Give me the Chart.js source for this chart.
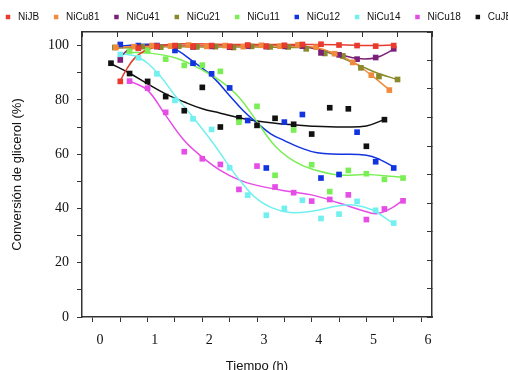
<!DOCTYPE html>
<html>
<head>
<meta charset="utf-8">
<script src="https://cdn.jsdelivr.net/npm/chart.js@4/dist/chart.umd.min.js"></script>
<style>
  html, body { margin: 0; padding: 0; background: #fff; overflow: hidden; }
  #wrap { position: absolute; left: -9px; top: 0; width: 540px; height: 374px; }
</style>
</head>
<body>
<div id="wrap"><canvas id="chart" width="540" height="374"></canvas></div>
<script>
/* series names and colours */
var names = ["NiJB", "NiCu81", "NiCu41", "NiCu21", "NiCu11", "NiCu12", "NiCu14", "NiCu18", "CuJB"];
var colors = ["#e83b2e", "#f08b3e", "#7a2079", "#8a8a2c", "#7aee55", "#1233e0", "#72f0f0", "#e64ce6", "#111111"];

/* sampling times (h) */
var tB = [0.5, 0.83, 1.17, 1.5, 1.83, 2.17, 2.5, 2.83, 3.17, 3.5, 3.83, 4.17, 4.5, 4.83, 5.17, 5.5];
var tC = [0.67, 1, 1.33, 1.67, 2, 2.33, 2.67, 3, 3.33, 3.67, 4, 4.33, 4.67, 5, 5.33, 5.67];
var tCuJB = [0.33, 0.67, 1, 1.33, 1.67, 2, 2.33, 2.67, 3, 3.33, 3.67, 4, 4.33, 4.67, 5, 5.33];
var tNiCu81 = [0.42, 0.75, 1.08, 1.42, 1.75, 2.08, 2.42, 2.75, 3.08, 3.42, 3.75, 4.08, 4.42, 4.75, 5.09, 5.42];
var tNiCu21 = [0.4, 0.9, 1.24, 1.57, 1.9, 2.24, 2.57, 2.9, 3.24, 3.57, 3.9, 4.24, 4.57, 4.9, 5.23, 5.57];

/* measured conversion (%) */
var vNiJB   = [86.8, 99.0, 99.8, 100.0, 99.6, 100.0, 99.7, 100.2, 99.8, 100.1, 100.4, 100.5, 100.2, 100.0, 99.8, 100.0];
var vNiCu81 = [99.3, 99.6, 100.0, 99.8, 100.2, 99.7, 100.0, 99.6, 100.1, 99.8, 100.3, 99.4, 97.0, 93.8, 89.1, 83.6];
var vNiCu41 = [94.7, 99.4, 99.6, 99.8, 99.5, 99.7, 99.4, 99.8, 99.6, 99.7, 99.8, 97.3, 96.6, 95.0, 95.6, 98.8];
var vNiCu21 = [99.3, 99.6, 99.4, 99.8, 99.5, 99.6, 99.3, 99.7, 99.5, 99.5, 98.8, 97.1, 96.2, 91.8, 88.6, 87.5];
var vNiCu11 = [98.0, 98.2, 95.0, 92.7, 92.8, 90.5, 71.8, 77.6, 52.2, 68.9, 56.1, 46.2, 54.0, 52.8, 50.7, 51.2];
var vNiCu12 = [100.4, 100.0, 100.0, 98.2, 93.5, 89.6, 84.4, 72.4, 54.9, 71.8, 74.6, 51.2, 52.5, 68.1, 57.2, 54.9];
var vNiCu14 = [96.7, 95.5, 89.6, 79.8, 73.0, 69.1, 55.0, 44.9, 37.5, 40.0, 43.0, 36.3, 37.9, 42.6, 39.3, 34.6];
var vNiCu18 = [86.9, 84.3, 75.4, 60.9, 58.3, 56.2, 47.0, 55.6, 47.9, 45.8, 42.7, 43.3, 45.0, 35.9, 39.8, 42.8];
var vCuJB   = [93.5, 89.7, 86.8, 81.2, 76.0, 84.6, 70.0, 73.4, 70.6, 73.2, 71.0, 67.4, 77.1, 76.7, 62.9, 72.7];

/* fitted curves */
var fNiJB_t   = [0.5, 0.6, 0.75, 0.93, 1.17, 1.5, 2.5, 3.5, 4.5, 5.17, 5.5];
var fNiJB_v   = [87, 90.8, 95.1, 97.9, 99.6, 100.6, 100.4, 100.4, 100.3, 100.0, 100.2];
var fNiCu81_t = [0.42, 1.5, 2.5, 3.42, 3.75, 4.08, 4.42, 4.75, 5.09, 5.42];
var fNiCu81_v = [99.5, 99.8, 99.8, 99.8, 99.7, 99.3, 97.0, 94.0, 89.1, 83.7];
var fNiCu41_t = [0.5, 0.67, 0.98, 1.5, 2.5, 3.42, 3.8, 4.16, 4.52, 4.84, 5.17, 5.5];
var fNiCu41_v = [95.7, 98.8, 100, 100, 99.9, 100.2, 100, 98.4, 96.7, 95.2, 95.5, 98.6];
var fNiCu21_t = [0.4, 1, 2, 3, 3.6, 4.06, 4.43, 4.86, 5.22, 5.57];
var fNiCu21_v = [99, 99.5, 99.5, 99.5, 99.3, 98.9, 96.4, 92.8, 89.7, 87.5];
var fNiCu11_t = [0.6, 1.0, 1.5, 2.0, 2.33, 2.67, 3.0, 3.33, 3.67, 4.0, 4.5, 5.0, 5.5, 5.67];
var fNiCu11_v = [97.4, 97.3, 95.5, 91, 87, 81, 72, 63, 57.5, 54.5, 52.3, 52.5, 51.8, 51.5];
var fNiCu12_t = [0.5, 1.0, 1.3, 1.53, 1.84, 2.2, 2.5, 2.75, 3.0, 3.25, 3.5, 3.8, 4.1, 4.5, 5.0, 5.25, 5.5];
var fNiCu12_v = [99.8, 100.5, 100, 98.4, 94, 88.3, 81.5, 76, 71.5, 67.5, 65, 62.3, 60.5, 60, 59.6, 58, 55.3];
var fNiCu14_t = [0.5, 0.83, 1.17, 1.5, 1.83, 2.2, 2.5, 2.7, 3.0, 3.3, 3.6, 4.0, 4.5, 4.8, 5.1, 5.5];
var fNiCu14_v = [97, 95.7, 90.2, 81.6, 73.6, 64, 55.3, 50, 43.5, 40, 38.5, 39, 41, 41.2, 39.5, 34.4];
var fNiCu18_t = [0.67, 1.0, 1.33, 1.67, 2.0, 2.33, 2.67, 3.0, 3.5, 4.0, 4.5, 5.0, 5.2, 5.45, 5.67];
var fNiCu18_v = [87, 83.5, 74.3, 65, 58.9, 54, 50.5, 48.5, 46.5, 45, 42, 38.8, 38.1, 40, 43];
var fCuJB_t   = [0.33, 0.67, 1.0, 1.33, 1.67, 2.0, 2.33, 2.67, 3.0, 3.33, 3.67, 4.0, 4.6, 5.0, 5.33];
var fCuJB_v   = [93.3, 89.8, 85.9, 82.2, 79.2, 76.7, 75.1, 73.4, 72.2, 71.4, 70.8, 70.3, 70, 70.4, 72.8];

var times = [tB, tNiCu81, tB, tNiCu21, tC, tB, tB, tC, tCuJB];
var values = [vNiJB, vNiCu81, vNiCu41, vNiCu21, vNiCu11, vNiCu12, vNiCu14, vNiCu18, vCuJB];
var fitT = [fNiJB_t, fNiCu81_t, fNiCu41_t, fNiCu21_t, fNiCu11_t, fNiCu12_t, fNiCu14_t, fNiCu18_t, fCuJB_t];
var fitV = [fNiJB_v, fNiCu81_v, fNiCu41_v, fNiCu21_v, fNiCu11_v, fNiCu12_v, fNiCu14_v, fNiCu18_v, fCuJB_v];

function pts(xs, ys) {
  return xs.map(function(x, i) { return {x: x, y: ys[i]}; });
}

var datasets = [];
names.forEach(function(n, i) {
  datasets.push({
    label: n,
    data: pts(times[i], values[i]),
    backgroundColor: colors[i],
    borderColor: colors[i],
    pointStyle: 'rect',
    pointRadius: 4,
    pointBorderWidth: 0,
    order: 0
  });
});
names.forEach(function(n, i) {
  datasets.push({
    label: n + ' ajuste',
    data: pts(fitT[i], fitV[i]),
    showLine: true,
    borderColor: colors[i],
    backgroundColor: colors[i],
    borderWidth: 1.5,
    pointRadius: 0,
    tension: 0.4,
    fill: false,
    order: 1
  });
});

var frame = '#333';
var serif = {family: 'Liberation Serif', size: 14};

new Chart(document.getElementById('chart'), {
  type: 'scatter',
  data: {datasets: datasets},
  options: {
    responsive: false,
    animation: false,
    events: [],
    layout: {padding: 0},
    plugins: {
      tooltip: {enabled: false},
      legend: {
        position: 'top',
        align: 'start',
        labels: {
          filter: function(item) { return item.datasetIndex < 9; },
          usePointStyle: true,
          boxWidth: 10,
          boxHeight: 4.5,
          padding: 12,
          color: '#111',
          font: {family: 'Liberation Sans', size: 10}
        }
      }
    },
    scales: {
      x: {
        type: 'linear',
        position: 'bottom',
        min: -0.2,
        max: 6.2,
        afterFit: function(s) { s.height = 57; },
        ticks: {
          stepSize: 0.5,
          includeBounds: false,
          maxRotation: 0,
          autoSkip: false,
          padding: 10,
          labelOffset: 7,
          color: '#111',
          font: serif,
          callback: function(v) { return Number.isInteger(v) ? v : ''; }
        },
        grid: {drawOnChartArea: false, tickLength: 5, color: frame},
        border: {color: frame, width: 1.5},
        title: {
          display: true,
          text: 'Tiempo (h)',
          color: '#111',
          font: {family: 'Liberation Sans', size: 13},
          padding: {top: 4, bottom: 0}
        }
      },
      x2: {
        type: 'linear',
        axis: 'x',
        position: 'top',
        min: 0,
        max: 10,
        afterFit: function(s) { s.height = 0; },
        ticks: {display: false, stepSize: 1},
        grid: {drawOnChartArea: false, tickLength: -5, color: frame},
        border: {color: frame, width: 1.5}
      },
      y: {
        type: 'linear',
        position: 'left',
        min: 0,
        max: 105,
        afterFit: function(s) { s.width = 91; },
        ticks: {
          stepSize: 10,
          includeBounds: false,
          padding: 8,
          color: '#111',
          font: serif,
          callback: function(v) { return v % 20 === 0 ? v : ''; }
        },
        grid: {drawOnChartArea: false, tickLength: 5, color: frame},
        border: {color: frame, width: 1.5},
        title: {
          display: true,
          text: 'Conversión de glicerol (%)',
          color: '#111',
          font: {family: 'Liberation Sans', size: 13},
          padding: {top: 19, bottom: 0}
        }
      },
      y2: {
        type: 'linear',
        axis: 'y',
        position: 'right',
        min: 0,
        max: 10,
        afterFit: function(s) { s.width = 99; },
        ticks: {display: false, stepSize: 1},
        grid: {drawOnChartArea: false, tickLength: -5, color: frame},
        border: {color: frame, width: 1.5}
      }
    }
  }
});
</script>
</body>
</html>
